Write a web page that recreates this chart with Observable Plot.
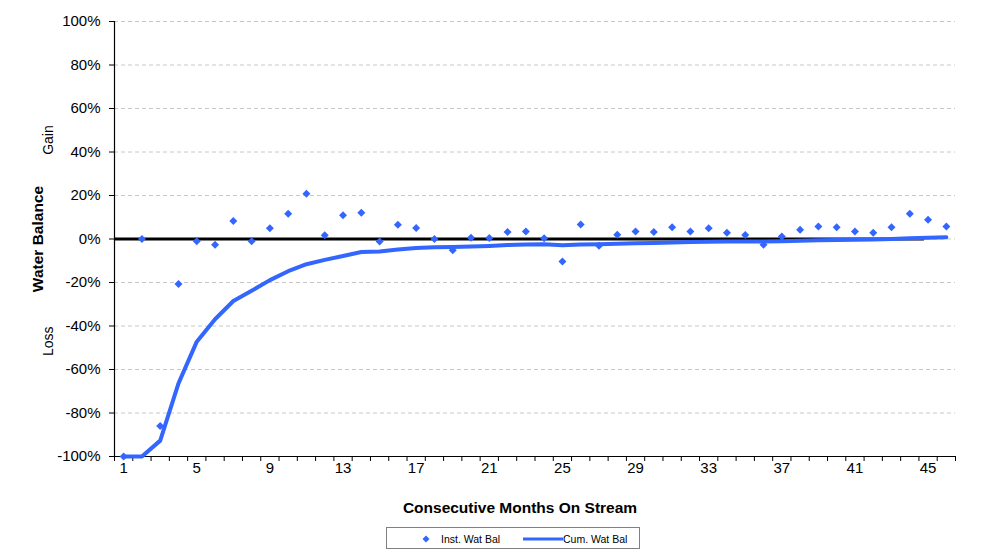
<!DOCTYPE html>
<html>
<head>
<meta charset="utf-8">
<script src="https://cdn.jsdelivr.net/npm/d3@7"></script>
<script src="https://cdn.jsdelivr.net/npm/@observablehq/plot@0.6"></script>
<style>
  html, body { margin: 0; padding: 0; background: #fff; }
  #wrap { position: relative; width: 984px; height: 556px; font-family: "Liberation Sans", Arial, sans-serif; }
  #legend { position: absolute; left: 386px; top: 527px; width: 254px; height: 22px; border: 1px solid #808080; box-sizing: border-box; font-size: 10.5px; color: #000; }
  #legend .item { position: absolute; top: 0; height: 22px; display: flex; align-items: center; }
</style>
</head>
<body>
<div id="wrap">
  <div id="chart"></div>
  <div id="legend">
    <div class="item" style="left:34px">
      <svg width="10" height="10" style="margin-right:10px"><path d="M5,1.5L8.5,5L5,8.5L1.5,5Z" fill="#3366ff"/></svg>
      <span>Inst. Wat Bal</span>
    </div>
    <div class="item" style="left:136px">
      <svg width="40" height="6"><line x1="0" y1="3" x2="40" y2="3" stroke="#3366ff" stroke-width="3"/></svg>
      <span>Cum. Wat Bal</span>
    </div>
  </div>
</div>
<script>
const months = d3.range(1, 47);
const instWatBal = [-100, 0, -86, -20.7, -1, -2.6, 8.3, -1, 4.9, 11.6, 20.8, 1.7, 10.9, 12.1, -1.2, 6.6, 5.1, 0, -5.2, 0.6, 0.5, 3.2, 3.4, 0.3, -10.3, 6.7, -3.1, 2.0, 3.5, 3.2, 5.4, 3.5, 4.9, 2.9, 1.8, -2.6, 1.2, 4.3, 5.7, 5.4, 3.4, 2.9, 5.4, 11.6, 8.9, 5.7];
const cumWatBal = [-100, -100, -92.7, -66.4, -47.2, -36.9, -28.5, -23.8, -18.9, -14.8, -11.6, -9.6, -7.8, -6.0, -5.7, -4.8, -4.1, -3.8, -3.7, -3.5, -3.2, -2.8, -2.5, -2.4, -2.9, -2.5, -2.4, -2.2, -2.0, -1.8, -1.6, -1.4, -1.3, -1.2, -1.1, -1.1, -1.0, -0.8, -0.6, -0.5, -0.4, -0.2, 0.0, 0.3, 0.6, 0.8];
const xTickLabels = [1, 5, 9, 13, 17, 21, 25, 29, 33, 37, 41, 45];
const xBoundaries = d3.range(0.5, 47, 1);
const yTicks = [-100, -80, -60, -40, -20, 0, 20, 40, 60, 80, 100];
const zeroLine = [{x1: 0.5, x2: 44.8, y: 0}];
const sideLabels = [{y: 45.5, text: "Gain"}, {y: -47, text: "Loss"}];

const inst = months.map((m, i) => ({month: m, value: instWatBal[i]}));
const cum = months.map((m, i) => ({month: m, value: cumWatBal[i]}));

const blue = "#3366ff";

const chart = Plot.plot({
  width: 984,
  height: 520,
  marginLeft: 114,
  marginRight: 29,
  marginTop: 21,
  marginBottom: 64,
  style: {fontFamily: "'Liberation Sans', Arial, sans-serif", fontSize: "15px", color: "#000", background: "#fff"},
  x: {domain: [0.5, 46.5]},
  y: {domain: [-100, 100]},
  marks: [
    Plot.gridY(yTicks, {stroke: "#c8c8c8", strokeOpacity: 1, strokeDasharray: "4,3"}),
    Plot.axisY(yTicks, {tickSize: 5, tickPadding: 9, tickFormat: d => d + "%", label: null, fontSize: 15}),
    Plot.axisX(xBoundaries, {tickSize: 5, tickFormat: () => "", label: null}),
    Plot.axisX(xTickLabels, {tickSize: 0, tickPadding: 6, label: null, fontSize: 15}),
    Plot.ruleX([0.5], {stroke: "#000", strokeWidth: 1.2}),
    Plot.ruleY([-100], {stroke: "#000", strokeWidth: 1.2}),
    Plot.ruleY(zeroLine, {y: "y", x1: "x1", x2: "x2", stroke: "#000", strokeWidth: 3}),
    Plot.line(cum, {x: "month", y: "value", stroke: blue, strokeWidth: 4, strokeLinejoin: "round"}),
    Plot.dot(inst, {x: "month", y: "value", symbol: "diamond2", r: 3.6, fill: blue, stroke: "none"}),
    Plot.text(["Consecutive Months On Stream"], {frameAnchor: "bottom", dy: 56, dx: -15, fontWeight: "bold", fontSize: 15.5, text: d => d}),
    Plot.text(["Water Balance"], {y: 0, frameAnchor: "left", textAnchor: "middle", dx: -76, rotate: -90, fontWeight: "bold", fontSize: 15.5, text: d => d}),
    Plot.text(sideLabels, {y: "y", text: "text", frameAnchor: "left", textAnchor: "middle", dx: -66, rotate: -90, fontSize: 14})
  ]
});
document.getElementById("chart").appendChild(chart);
</script>
</body>
</html>
